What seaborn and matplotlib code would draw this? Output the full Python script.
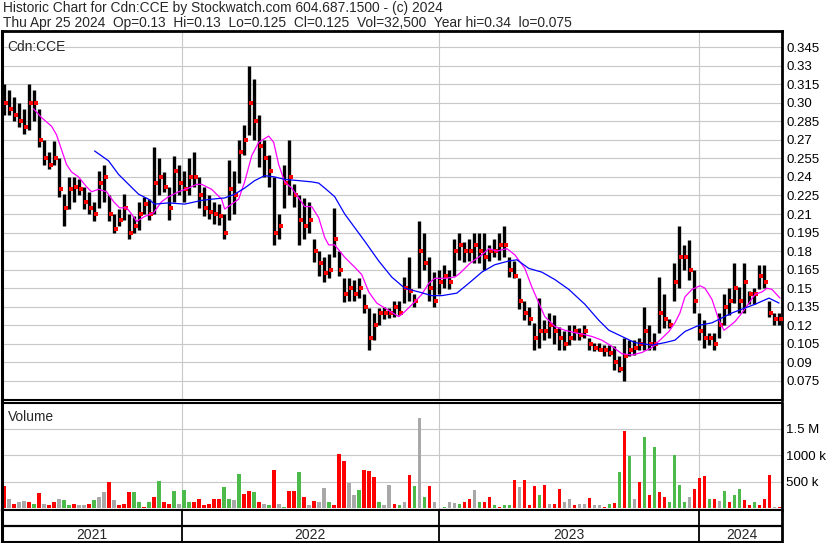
import matplotlib
matplotlib.use("Agg")
import matplotlib.pyplot as plt
import numpy as np
import pandas as pd
import seaborn as sns

# weekly bars (x axis = trading-day index, ~1 px per day)
high = [.315, .31, .305, .30, .295, .315, .31, .295, .27, .26,
        .269, .255, .226, .24, .24, .238, .232, .228, .22, .245,
        .25, .225, .21, .214, .226, .21, .208, .22, .224, .222,
        .264, .255, .244, .232, .257, .25, .245, .255, .26, .24,
        .232, .225, .22, .218, .21, .254, .245, .27, .282, .33,
        .319, .29, .27, .258, .24, .21, .25, .27, .234, .225,
        .223, .22, .19, .18, .175, .178, .215, .18, .158, .158,
        .157, .158, .145, .134, .13, .134, .135, .134, .14, .14,
        .159, .175, .145, .204, .195, .175, .163, .165, .169, .165,
        .19, .195, .187, .19, .195, .195, .195, .185, .19, .195,
        .20, .175, .172, .158, .14, .135, .122, .142, .124, .13,
        .128, .119, .115, .12, .12, .118, .12, .11, .106, .106,
        .104, .104, .103, .095, .11, .108, .108, .11, .135, .12,
        .114, .159, .145, .125, .17, .20, .185, .189, .165, .13,
        .124, .114, .114, .13, .145, .15, .17, .151, .17, .148,
        .15, .169, .169, .14, .13, .13]
low = [.29, .29, .285, .28, .275, .278, .285, .264, .25, .246,
       .25, .224, .20, .214, .22, .225, .214, .21, .204, .215,
       .22, .204, .195, .20, .205, .19, .195, .197, .21, .205,
       .21, .225, .228, .205, .22, .225, .22, .225, .232, .215,
       .208, .206, .202, .201, .19, .205, .21, .235, .258, .274,
       .27, .248, .24, .232, .185, .19, .215, .225, .216, .185,
       .19, .195, .171, .16, .155, .158, .175, .16, .139, .14,
       .14, .142, .13, .10, .108, .12, .125, .126, .127, .128,
       .138, .14, .135, .15, .165, .14, .135, .145, .15, .149,
       .16, .173, .171, .172, .17, .17, .165, .172, .175, .173,
       .175, .159, .158, .133, .124, .12, .10, .102, .108, .11,
       .105, .10, .10, .104, .108, .108, .11, .10, .099, .099,
       .095, .095, .084, .082, .075, .095, .096, .10, .10, .10,
       .10, .114, .118, .118, .14, .15, .165, .157, .13, .108,
       .102, .104, .10, .11, .12, .128, .138, .13, .13, .137,
       .137, .149, .15, .127, .12, .12]
close = [.30, .295, .29, .285, .28, .30, .30, .27, .255, .25,
         .255, .23, .215, .23, .232, .23, .22, .215, .21, .235,
         .24, .21, .198, .205, .215, .195, .20, .21, .218, .21,
         .235, .24, .232, .215, .245, .235, .23, .24, .24, .225,
         .215, .212, .21, .208, .195, .23, .225, .26, .27, .30,
         .285, .265, .255, .245, .195, .20, .235, .24, .225, .205,
         .20, .205, .18, .17, .162, .165, .19, .165, .145, .15,
         .145, .15, .135, .11, .12, .13, .13, .13, .135, .13,
         .15, .148, .14, .18, .17, .15, .14, .155, .16, .155,
         .18, .185, .18, .18, .185, .18, .175, .18, .18, .185,
         .185, .165, .16, .14, .13, .125, .11, .115, .115, .12,
         .115, .11, .105, .11, .115, .112, .115, .105, .102, .10,
         .10, .098, .09, .085, .095, .10, .102, .105, .115, .105,
         .105, .13, .125, .12, .155, .175, .175, .165, .14, .115,
         .11, .11, .105, .12, .135, .14, .15, .14, .155, .145,
         .145, .16, .155, .13, .125, .125]

# volume in thousands, r = down, g = up, n = unchanged
volume_k = [430, 185, 90, 120, 135, 120, 90, 295, 90, 60,
            120, 185, 155, 60, 90, 60, 60, 90, 155, 220,
            315, 500, 155, 60, 90, 315, 315, 120, 25, 120,
            220, 520, 120, 90, 325, 90, 345, 120, 120, 185,
            60, 90, 185, 185, 410, 185, 155, 650, 280, 325,
            315, 120, 90, 60, 720, 90, 25, 325, 325, 680,
            220, 60, 135, 120, 390, 120, 60, 1020, 890, 475,
            250, 345, 730, 700, 600, 120, 60, 440, 90, 60,
            120, 635, 430, 1710, 220, 430, 120, 10, 25, 120,
            110, 90, 120, 175, 345, 120, 120, 220, 60, 20,
            60, 60, 540, 410, 540, 60, 430, 250, 440, 90,
            90, 365, 120, 185, 60, 90, 90, 200, 60, 60,
            25, 90, 100, 680, 1470, 990, 185, 490, 1340, 250,
            1160, 315, 220, 120, 1005, 440, 120, 220, 365, 580,
            620, 185, 175, 140, 335, 120, 250, 365, 155, 60,
            120, 60, 175, 635, 20, 30]
vol_dir = list("rnrnnrgrnr" "rnggrnnrgn" "nrnrrrggrg" "rgrrgnggrr"
               "rrrrggngrr" "grngrngrrg" "rnrnngrrrn" "ngrrrgnnrg"
               "nrgngrnrgn" "ngrrngrrgr" "ggrnrrrgrn" "rrnnrnnrnn"
               "rgrgrgnrgr" "grrggggnrr" "rgrngrggrr" "grrrnr")

ma_fast_x = [32, 40, 50, 55, 60, 65, 70, 77, 85, 90, 97, 105, 112, 118, 125,
             130, 135, 143, 152, 160, 167, 177, 187, 195, 200, 210, 220, 223,
             230, 237, 243, 250, 257, 267, 272, 277, 283, 290, 297, 303, 310,
             317, 323, 327, 333, 343, 353, 360, 367, 375, 383, 387, 397, 403,
             413, 420, 427, 433, 443, 453, 458, 468, 480, 487, 495, 505, 513,
             523, 530, 537, 543, 553, 563, 573, 580, 590, 600, 610, 620, 630,
             640, 650, 658, 667, 673, 678, 683, 690, 698, 703, 710, 717, 722,
             727, 733, 740, 747, 753, 760, 765, 770, 778]
ma_fast_y = [.295, .288, .281, .274, .262, .25, .244, .24, .232, .228, .23, .228,
             .22, .215, .215, .21, .204, .208, .211, .22, .224, .228, .231, .234,
             .234, .23, .222, .214, .218, .222, .236, .257, .268, .273, .268, .25,
             .236, .231, .223, .216, .216, .207, .191, .185, .185, .175, .167,
             .161, .147, .138, .134, .132, .127, .131, .139, .145, .154, .158,
             .158, .159, .162, .17, .177, .182, .18, .182, .177, .166, .151, .138,
             .127, .119, .116, .114, .113, .111, .108, .103, .097, .096, .098,
             .102, .108, .115, .122, .13, .143, .149, .152, .15, .141, .124, .116,
             .119, .123, .13, .138, .145, .147, .15, .149, .142]
ma_slow_x = [93, 107, 117, 127, 137, 147, 153, 167, 183, 200, 210, 223, 233, 243,
             253, 263, 273, 283, 297, 310, 317, 323, 333, 343, 353, 363, 377, 390,
             403, 417, 430, 440, 455, 467, 480, 493, 507, 515, 527, 540, 553, 567,
             583, 597, 607, 620, 633, 650, 663, 673, 683, 697, 710, 720, 730, 743,
             753, 767, 777]
ma_slow_y = [.261, .253, .242, .234, .226, .222, .218, .219, .218, .221, .222, .223,
             .226, .231, .237, .241, .24, .238, .237, .236, .235, .231, .224, .21,
             .199, .188, .172, .159, .15, .147, .144, .144, .146, .154, .163, .169,
             .172, .173, .166, .163, .157, .149, .137, .124, .116, .111, .106, .104,
             .106, .108, .115, .12, .122, .126, .13, .134, .137, .142, .138]

price_ticks = [.345, .33, .315, .30, .285, .27, .255, .24, .225, .21, .195, .18,
               .165, .15, .135, .12, .105, .09, .075]
price_labels = ["0.345", "0.33", "0.315", "0.30", "0.285", "0.27", "0.255", "0.24",
                "0.225", "0.21", "0.195", "0.18", "0.165", "0.15", "0.135", "0.12",
                "0.105", "0.09", "0.075"]
vol_ticks = [500e3, 1000e3, 1500e3]
vol_labels = ["500 k", "1000 k", "1.5 M"]
years = ["2021", "2022", "2023", "2024"]
year_starts = [180, 437, 697]
last_day = 780

header1 = "Historic Chart for Cdn:CCE by Stockwatch.com 604.687.1500 - (c) 2024"
header2 = ("Thu Apr 25 2024  Op=0.13  Hi=0.13  Lo=0.125  Cl=0.125  Vol=32,500  "
           "Year hi=0.34  lo=0.075")

sns.set_style("white")
plt.rcParams["font.family"] = ["Liberation Sans", "DejaVu Sans"]

W, H = 830, 543
fig = plt.figure(figsize=(W / 100, H / 100), dpi=100)


def box(x0, y0, x1, y1):
    return [x0 / W, 1 - y1 / H, (x1 - x0) / W, (y1 - y0) / H]


ax_p = fig.add_axes(box(1.5, 31, 782, 400))
ax_v = fig.add_axes(box(1.5, 402.5, 782, 509.5))
ax_d = fig.add_axes(box(1.5, 509.5, 782, 542))

grid = "#c8c8c8"
days = np.arange(len(high)) * 5 + 2.5

# --- price panel ---
for t in price_ticks:
    ax_p.axhline(t, color=grid, lw=0.8, zorder=0)
for d in year_starts:
    ax_p.axvline(d, color=grid, lw=0.8, zorder=0)
ax_p.vlines(days, low, high, color="black", lw=2.4, zorder=2)
ax_p.scatter(days + 1.5, close, marker="s", s=6, color="red", linewidths=0, zorder=3)
sns.lineplot(x=ma_fast_x, y=ma_fast_y, color="#ff00ff", lw=0.9, ax=ax_p, zorder=4)
sns.lineplot(x=ma_slow_x, y=ma_slow_y, color="#0000ff", lw=0.9, ax=ax_p, zorder=4)
ax_p.set_ylim(0.0596, 0.358)
ax_p.set_yticks(price_ticks, price_labels)
ax_p.text(0.008, 0.975, "Cdn:CCE", transform=ax_p.transAxes, fontsize=9.9, va="top")

# --- volume panel ---
vol_df = pd.DataFrame({"day": days, "vol": np.array(volume_k) * 1000.0,
                       "dir": vol_dir})
for t in vol_ticks:
    ax_v.axhline(t, color=grid, lw=0.8, zorder=0)
for d in year_starts:
    ax_v.axvline(d, color=grid, lw=0.8, zorder=0)
sns.barplot(data=vol_df, x="day", y="vol", hue="dir",
            palette={"r": "#ff0000", "g": "#4cbb4c", "n": "#a8a8a8"},
            native_scale=True, dodge=False, width=0.7, errorbar=None,
            saturation=1, legend=False, linewidth=0, ax=ax_v, zorder=2)
ax_v.set_ylim(-20e3, 2.0e6)
ax_v.set_yticks(vol_ticks, vol_labels)
ax_v.text(0.008, 0.93, "Volume", transform=ax_v.transAxes, fontsize=9.9, va="top")

# --- date strip ---
ax_d.set_ylim(0, 1)
ax_d.axhline(0.477, color="black", lw=1.6)
ax_d.vlines(year_starts, 0, 1, color="black", lw=1.3)
bounds = [0] + year_starts + [782]
for i, y in enumerate(years):
    ax_d.text((bounds[i] + bounds[i + 1]) / 2, 0.22, y, ha="center", va="center",
              fontsize=10)
ax_d.set_yticks([])

for ax in (ax_p, ax_v, ax_d):
    ax.set_xlim(0, last_day)
    ax.set_xticks([])
    ax.set_xlabel("")
    ax.set_ylabel("")
    ax.yaxis.tick_right()
    ax.tick_params(axis="y", length=0, pad=3, labelsize=9.5, labelcolor="black")
    for s in ax.spines.values():
        s.set_color("black")
        s.set_linewidth(1.5)
    ax.spines["left"].set_linewidth(2.2)
    ax.spines["right"].set_linewidth(2.0)
ax_p.spines["top"].set_linewidth(2.0)

fig.text(3 / W, 1 - 1 / H, header1, va="top", fontsize=9.9)
fig.text(3 / W, 1 - 16 / H, header2, va="top", fontsize=9.9)

fig.savefig("out.png", dpi=100)
